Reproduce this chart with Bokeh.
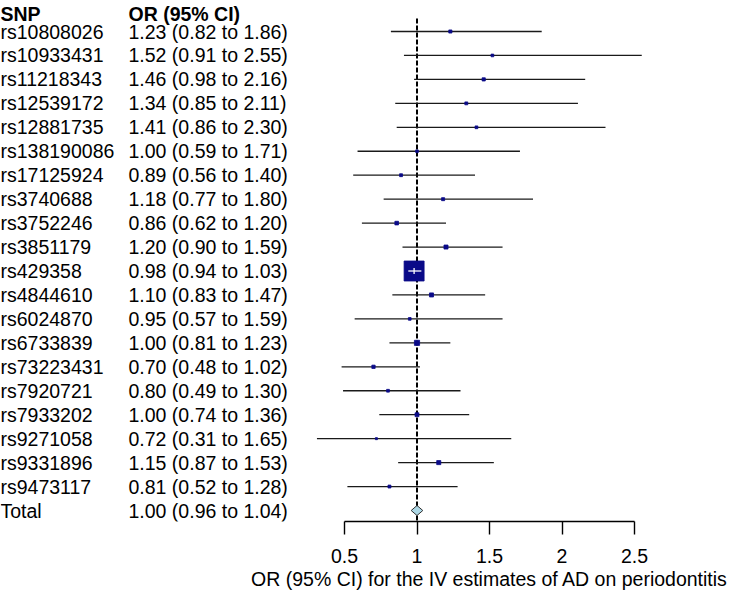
import numpy as np
from bokeh.plotting import figure
from bokeh.models import Range1d, FixedTicker, CustomJSTickFormatter, ColumnDataSource, Title
from bokeh.core.properties import value
from bokeh.embed import file_html
from bokeh.resources import INLINE

# ---------------- data ----------------
snps = ["rs10808026", "rs10933431", "rs11218343", "rs12539172", "rs12881735",
        "rs138190086", "rs17125924", "rs3740688", "rs3752246", "rs3851179",
        "rs429358", "rs4844610", "rs6024870", "rs6733839", "rs73223431",
        "rs7920721", "rs7933202", "rs9271058", "rs9331896", "rs9473117"]
or_est = [1.23, 1.52, 1.46, 1.34, 1.41, 1.00, 0.89, 1.18, 0.86, 1.20,
          0.98, 1.10, 0.95, 1.00, 0.70, 0.80, 1.00, 0.72, 1.15, 0.81]
or_lo = [0.82, 0.91, 0.98, 0.85, 0.86, 0.59, 0.56, 0.77, 0.62, 0.90,
         0.94, 0.83, 0.57, 0.81, 0.48, 0.49, 0.74, 0.31, 0.87, 0.52]
or_hi = [1.86, 2.55, 2.16, 2.11, 2.30, 1.71, 1.40, 1.80, 1.20, 1.59,
         1.03, 1.47, 1.59, 1.23, 1.02, 1.30, 1.36, 1.65, 1.53, 1.28]
total_label = "Total"
total_est, total_lo, total_hi = 1.00, 0.96, 1.04
x_ticks = [0.5, 1, 1.5, 2, 2.5]
null_value = 1.0
header_snp = "SNP"
header_or = "OR (95% CI)"
x_label = "OR (95% CI) for the IV estimates of AD on periodontitis"

# ---------------- layout ----------------
W, H = 735, 594
PX_PER_UNIT = 145.0
x_axis_px = 344.0                      # canvas px of 0.5
x0 = 0.5 - x_axis_px / PX_PER_UNIT
x1 = x0 + W / PX_PER_UNIT
ROW_PX = 23.95
AXIS_PX = 521.0
y_top = 1 - 31.0 / ROW_PX
y_bottom = y_top + AXIS_PX / ROW_PX
FONT = value("Liberation Sans")
FS = "19.5px"

def px_to_x(px):
    return x0 + px / PX_PER_UNIT

def py_to_y(py):
    return y_top + py / ROW_PX

n = len(snps)
rows = np.arange(1, n + 1)

p = figure(width=W, height=H, x_range=Range1d(x0, x1), y_range=Range1d(y_bottom, y_top),
           output_backend="svg", toolbar_location=None, y_axis_location=None,
           min_border=0, min_border_bottom=int(H - AXIS_PX))
p.grid.visible = False
p.outline_line_color = None
p.background_fill_color = "white"
p.border_fill_color = "white"

ax = p.xaxis[0]
ax.bounds = (min(x_ticks), max(x_ticks))
ax.ticker = FixedTicker(ticks=x_ticks)
ax.formatter = CustomJSTickFormatter(code="return tick.toString()")
ax.minor_tick_line_color = None
ax.major_tick_out = 13
ax.major_tick_in = 0
ax.major_tick_line_width = 1.4
ax.axis_line_width = 1.4
ax.axis_line_color = "black"
ax.major_tick_line_color = "black"
ax.major_label_text_font = "Liberation Sans"
ax.major_label_text_font_size = FS
ax.major_label_text_color = "black"
ax.major_label_standoff = 14

# axis title, centred under the axis span (0.5 .. 2.5)
label_w = 476.9
axis_mid_px = x_axis_px + (max(x_ticks) - 0.5 + (0.5 - min(x_ticks))) * PX_PER_UNIT / 2
xt = Title(text=x_label, align="left", offset=axis_mid_px - label_w / 2,
           text_font="Liberation Sans", text_font_size=FS, text_font_style="normal",
           text_color="black", standoff=0)
p.add_layout(xt, "below")

# null line
p.segment(x0=[null_value], y0=[py_to_y(18)], x1=[null_value], y1=[y_bottom],
          line_color="black", line_width=2, line_dash="5 2")

# CI lines
p.segment(x0=or_lo, y0=rows, x1=or_hi, y1=rows, line_color="#1a1a1a", line_width=1.3)

# box sizes by inverse variance weight
se = (np.log(or_hi) - np.log(or_lo)) / (2 * 1.96)
w = 1.0 / se ** 2
sizes = 1.0 + 19.0 * np.sqrt(w / w.max())
src = ColumnDataSource(dict(x=or_est, y=rows, size=sizes))
p.scatter(x="x", y="y", size="size", source=src, marker="square",
          fill_color="#0a0a88", line_color="#0a0a88", line_width=0.8)

# white CI inside boxes that cover it
ci_px = (np.array(or_hi) - np.array(or_lo)) * PX_PER_UNIT
inside = sizes >= ci_px
if inside.any():
    idx = np.where(inside)[0]
    p.segment(x0=[or_lo[i] for i in idx], y0=rows[idx], x1=[or_hi[i] for i in idx], y1=rows[idx],
              line_color="white", line_width=1.3)
    p.scatter(x=[or_est[i] for i in idx], y=rows[idx], marker="dash", angle=np.pi / 2,
              size=6, line_color="white", line_width=1.3)

# total diamond
ty = n + 1
p.patch(x=[total_lo, total_est, total_hi, total_est], y=[ty, ty - 0.21, ty, ty + 0.21],
        fill_color="#add8e6", line_color="#333333", line_width=1)

# table text
labels_or = [f"{e:.2f} ({l:.2f} to {h:.2f})" for e, l, h in zip(or_est, or_lo, or_hi)]
col1 = px_to_x(0)
col2 = px_to_x(128)
p.text(x=[col1] * n, y=rows, text=snps, text_font=FONT, text_font_size=FS,
       text_baseline="middle", text_align="left", text_color="black")
p.text(x=[col2] * n, y=rows, text=labels_or, text_font=FONT, text_font_size=FS,
       text_baseline="middle", text_align="left", text_color="black")
p.text(x=[col1, col2], y=[ty, ty], text=[total_label, f"{total_est:.2f} ({total_lo:.2f} to {total_hi:.2f})"],
       text_font=FONT, text_font_size=FS, text_baseline="middle", text_align="left", text_color="black")
hy = py_to_y(13)
p.text(x=[col1, col2], y=[hy, hy], text=[header_snp, header_or], text_font=FONT,
       text_font_size=FS, text_font_style="bold", text_baseline="middle", text_align="left",
       text_color="black")

open("out.html", "w").write(file_html(p, INLINE))
